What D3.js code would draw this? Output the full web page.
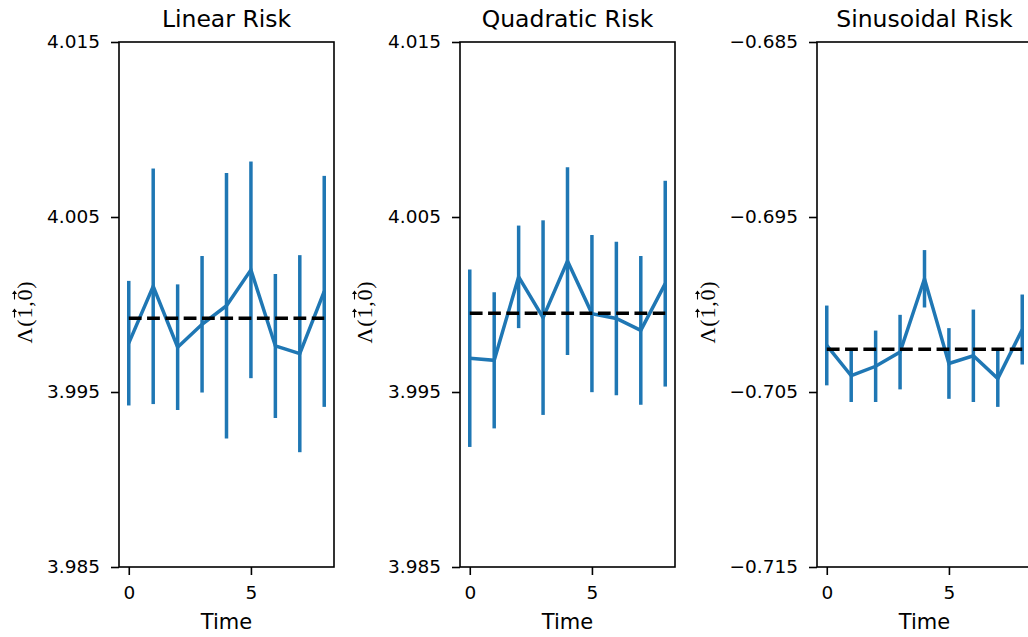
<!DOCTYPE html>
<html>
<head>
<meta charset="utf-8">
<script src="https://cdn.jsdelivr.net/npm/d3@7"></script>
<style>
  html, body { margin: 0; padding: 0; background: #fff; overflow: hidden; }
  svg { display: block; }
</style>
</head>
<body>
<svg id="chart" width="1028" height="637"></svg>
<script>
// ---- data ----
const time = [0, 1, 2, 3, 4, 5, 6, 7, 8];
const titles = ["Linear Risk", "Quadratic Risk", "Sinusoidal Risk"];

const linearMean = [3.99779, 4.00104, 3.99756, 3.99887, 3.99993, 4.00198, 3.99763, 3.99719, 4.00075];
const linearErr  = [0.00356, 0.00673, 0.00359, 0.00390, 0.00759, 0.00619, 0.00412, 0.00563, 0.00660];
const linearRef  = 3.99922;

const quadMean = [3.99693, 3.99681, 4.00158, 3.99925, 4.00248, 3.99948, 3.99920, 3.99852, 4.00119];
const quadErr  = [0.00507, 0.00389, 0.00293, 0.00556, 0.00536, 0.00449, 0.00438, 0.00425, 0.00588];
const quadRef  = 3.9995;

const sinMean = [-0.70234, -0.70407, -0.70353, -0.70272, -0.69853, -0.70337, -0.70293, -0.70423, -0.70143];
const sinErr  = [0.00228, 0.00150, 0.00204, 0.00213, 0.00164, 0.00202, 0.00264, 0.00162, 0.00200];
const sinRef  = -0.70256;

const yDomains = [[3.985, 4.015], [3.985, 4.015], [-0.715, -0.685]];
const yTicks = [[3.985, 3.995, 4.005, 4.015], [3.985, 3.995, 4.005, 4.015], [-0.715, -0.705, -0.695, -0.685]];
const xTicks = [0, 5];
const xDomain = [-0.4, 8.4];
const yLabelParts = ["\u039B(", "1", ",", "0", ")"];

const panels = [
  { title: titles[0], mean: linearMean, err: linearErr, ref: linearRef, yDomain: yDomains[0], yTicks: yTicks[0] },
  { title: titles[1], mean: quadMean, err: quadErr, ref: quadRef, yDomain: yDomains[1], yTicks: yTicks[1] },
  { title: titles[2], mean: sinMean, err: sinErr, ref: sinRef, yDomain: yDomains[2], yTicks: yTicks[2] }
];

// ---- layout ----
const lefts = [119, 460, 817];
const pw = 215;
const plotTop = 42, plotBottom = 567;
const labelX = [32, 372, 715];
const blue = "#1f77b4";
const lw = 3.5;
const sans = "DejaVu Sans, sans-serif";

const svg = d3.select("#chart");
const fmt = d3.format(".3f");
const minusFmt = v => fmt(v).replace("-", "\u2212");

panels.forEach((p, i) => {
  const x = d3.scaleLinear().domain(xDomain).range([lefts[i], lefts[i] + pw]);
  const y = d3.scaleLinear().domain(p.yDomain).range([plotBottom, plotTop]);
  const g = svg.append("g");

  // error bars
  g.selectAll("line.err").data(time).enter().append("line")
    .attr("class", "err")
    .attr("x1", t => x(t)).attr("x2", t => x(t))
    .attr("y1", (t, k) => y(p.mean[k] - p.err[k]))
    .attr("y2", (t, k) => y(p.mean[k] + p.err[k]))
    .attr("stroke", blue).attr("stroke-width", lw);

  // mean line
  const line = d3.line().x((d, k) => x(time[k])).y(d => y(d));
  g.append("path").datum(p.mean).attr("d", line)
    .attr("fill", "none").attr("stroke", blue).attr("stroke-width", lw)
    .attr("stroke-linejoin", "miter");

  // dashed reference
  g.append("line")
    .attr("x1", x(time[0])).attr("x2", x(time[time.length - 1]))
    .attr("y1", y(p.ref)).attr("y2", y(p.ref))
    .attr("stroke", "#000").attr("stroke-width", lw)
    .attr("stroke-dasharray", "12.8,5.5");

  // spines
  g.append("rect").attr("x", lefts[i]).attr("y", plotTop).attr("width", pw).attr("height", plotBottom - plotTop)
    .attr("fill", "none").attr("stroke", "#000").attr("stroke-width", 1.6);

  // y axis
  const ya = d3.axisLeft(y).tickValues(p.yTicks).tickFormat(minusFmt).tickSize(8).tickPadding(11);
  const yg = g.append("g").attr("transform", `translate(${lefts[i]},0)`).call(ya);
  yg.select(".domain").remove();
  yg.selectAll(".tick line").attr("stroke-width", 1.6);
  yg.selectAll(".tick text").style("font-size", "18.5px").style("font-family", sans).attr("fill", "#000");

  // x axis
  const xa = d3.axisBottom(x).tickValues(xTicks).tickFormat(d3.format("d")).tickSize(8).tickPadding(11);
  const xg = g.append("g").attr("transform", `translate(0,${plotBottom})`).call(xa);
  xg.select(".domain").remove();
  xg.selectAll(".tick line").attr("stroke-width", 1.6);
  xg.selectAll(".tick text").style("font-size", "18.5px").style("font-family", sans).attr("fill", "#000");

  // title
  g.append("text").attr("x", lefts[i] + pw / 2).attr("y", 27)
    .attr("text-anchor", "middle").style("font-family", sans).style("font-size", "23.5px").text(p.title);

  // x label
  g.append("text").attr("x", lefts[i] + pw / 2).attr("y", 629)
    .attr("text-anchor", "middle").style("font-family", sans).style("font-size", "21px").text("Time");

  // y label with vector arrows over 1 and 0
  const lg = g.append("g").attr("transform", `translate(${labelX[i]},312) rotate(-90)`);
  const lt = lg.append("text").attr("text-anchor", "middle")
    .style("font-family", "Liberation Serif, DejaVu Serif, serif").style("font-size", "22px")
    .style("letter-spacing", "0.8px");
  yLabelParts.forEach(s => lt.append("tspan").text(s));
  const node = lt.node();
  const full = yLabelParts.join("");
  [full.indexOf("1"), full.indexOf("0")].forEach(ci => {
    const ext = node.getExtentOfChar(ci);
    const cx = ext.x + (ext.width - 0.8) / 2;
    const yTop = -14.5;
    const aw = 9;
    lg.append("line")
      .attr("x1", cx - aw / 2).attr("x2", cx + aw / 2 - 1)
      .attr("y1", yTop - 3).attr("y2", yTop - 3)
      .attr("stroke", "#000").attr("stroke-width", 1.1);
    lg.append("path")
      .attr("d", `M${cx + aw / 2 - 3.5},${yTop - 5.5} L${cx + aw / 2},${yTop - 3} L${cx + aw / 2 - 3.5},${yTop - 0.5} Z`)
      .attr("fill", "#000");
  });
});
</script>
</body>
</html>
